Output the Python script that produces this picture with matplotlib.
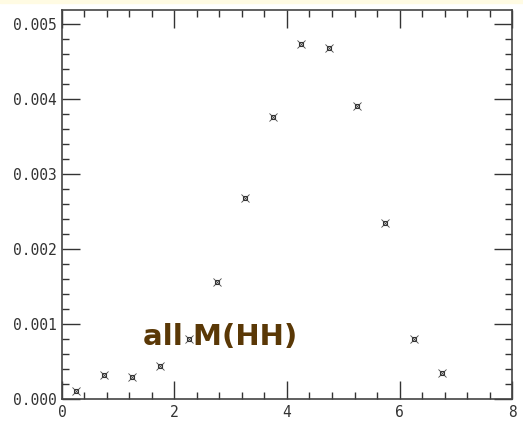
import matplotlib
matplotlib.use("Agg")
import matplotlib.pyplot as plt
from matplotlib.ticker import MultipleLocator, FormatStrFormatter

# Bin centres and normalised entries
x_centres = [0.25, 0.75, 1.25, 1.75, 2.25, 2.75, 3.25, 3.75, 4.25, 4.75, 5.25, 5.75, 6.25, 6.75]
y_values = [0.00011, 0.00032, 0.00029, 0.00044, 0.00080, 0.00156, 0.00268, 0.00376,
            0.00473, 0.00468, 0.00391, 0.00235, 0.00080, 0.00035]
x_ticks = [0, 2, 4, 6, 8]
y_ticks = [0.000, 0.001, 0.002, 0.003, 0.004, 0.005]
label = "all M(HH)"

fig = plt.figure(figsize=(5.23, 4.25), dpi=100)
fig.patch.set_facecolor("white")
# thin pale band along the top edge
fig.patches.append(plt.Rectangle((0, 0.993), 1, 0.007, transform=fig.transFigure,
                                 color="#fffbe3", zorder=0))

ax = fig.add_axes([0.1185, 0.0612, 0.8605, 0.9153])
ax.set_xlim(0, 8)
ax.set_ylim(0, 0.005187)

ax.plot(x_centres, y_values, linestyle="none", marker="s", markersize=3.2,
        markerfacecolor="none", markeredgecolor="#333333", markeredgewidth=0.8)
ax.plot(x_centres, y_values, linestyle="none", marker="x", markersize=6,
        markeredgecolor="#444444", markeredgewidth=0.6)

ax.set_xticks(x_ticks)
ax.set_yticks(y_ticks)
ax.xaxis.set_minor_locator(MultipleLocator(0.4))
ax.yaxis.set_minor_locator(MultipleLocator(0.0002))
ax.yaxis.set_major_formatter(FormatStrFormatter("%.3f"))
ax.tick_params(which="both", direction="in", top=True, right=True, color="#333333")
ax.tick_params(which="major", length=13, width=1.0, labelsize=10.5, pad=4)
ax.tick_params(which="minor", length=5, width=1.0)
for lab in ax.get_xticklabels() + ax.get_yticklabels():
    lab.set_family("DejaVu Sans Mono")
    lab.set_color("#333333")
for sp in ax.spines.values():
    sp.set_linewidth(1.2)
    sp.set_color("#444444")

ax.text(2.81, 0.00082, label, fontsize=21, fontweight="bold", color="#5a3806",
        family="DejaVu Sans", ha="center", va="center")

fig.savefig("out.png", dpi=100)
